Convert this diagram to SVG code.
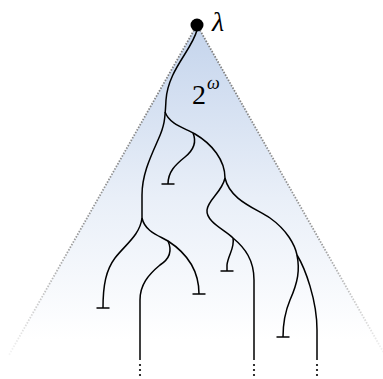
<svg xmlns="http://www.w3.org/2000/svg" width="383" height="379" viewBox="0 0 383 379">
<defs>
<linearGradient id="fillg" gradientUnits="userSpaceOnUse" x1="0" y1="25" x2="0" y2="340">
<stop offset="0" stop-color="#c4d4ec"/>
<stop offset="0.55" stop-color="#e9eff8"/>
<stop offset="1" stop-color="#ffffff"/>
</linearGradient>
<linearGradient id="edgeg" gradientUnits="userSpaceOnUse" x1="0" y1="25" x2="0" y2="355">
<stop offset="0" stop-color="#7a7a7a"/>
<stop offset="0.65" stop-color="#999999"/>
<stop offset="1" stop-color="#f4f4f4"/>
</linearGradient>
</defs>
<style>
.edge{fill:none;stroke:url(#edgeg);stroke-width:1.8;stroke-dasharray:1.5 1.5}
.br{fill:none;stroke:#000;stroke-width:1.5;stroke-linecap:butt}
.bar{stroke:#000;stroke-width:1.5}
.dot{fill:#000}
.lbl{font-family:"Liberation Serif",serif;font-style:italic;fill:#000}
.num{font-family:"Liberation Serif",serif;fill:#000}
</style>
<g id="cone">
<polygon points="197,25 9,355 385,355" fill="url(#fillg)" stroke="none"/>
<path class="edge" d="M197,25 L9,355"/>
<path class="edge" d="M197,25 L385,355"/>
</g>
<g id="connectors">
<path class="br" d="M197,30 C192,50 168,70 166,100 C165,118 165,125 158,140 C150,158 142,175 142,195 L142,218"/>
<path class="br" d="M142,218 C140,235 125,245 115,258 C106,270 103,285 103,308"/>
<path class="br" d="M142,218 C145,232 160,236 168,241 C185,252 199,268 199,294"/>
<path class="br" d="M168,241 C172,250 171,258 160,265 C148,275 140,285 140,300 L140,360"/>
<path class="br" d="M165,112 C170,125 185,128 195,134 C212,144 225,160 225,178"/>
<path class="br" d="M193,133 C196,140 196,148 185,157 C175,165 168,172 168,184"/>
<path class="br" d="M225,178 C222,192 208,200 207,210 C206,222 225,230 233,238"/>
<path class="br" d="M233,238 C235,248 228,255 227,265 L227,271"/>
<path class="br" d="M233,238 C245,248 254,260 254,280 L254,360"/>
<path class="br" d="M225,178 C230,200 255,208 270,218 C287,230 295,245 297,255"/>
<path class="br" d="M297,255 C300,270 298,282 290,300 C285,312 283,322 283,337"/>
<path class="br" d="M297,255 C305,268 317,300 317,330 L317,360"/>
</g>
<g id="leaves">
<line class="bar" x1="96.5" y1="308" x2="109.5" y2="308"/>
<line class="bar" x1="161.5" y1="184" x2="174.5" y2="184"/>
<line class="bar" x1="192.5" y1="294" x2="205.5" y2="294"/>
<line class="bar" x1="220.5" y1="271" x2="233.5" y2="271"/>
<line class="bar" x1="276.5" y1="337" x2="289.5" y2="337"/>
</g>
<g id="continuations">
<circle class="dot" cx="140" cy="365" r="1.1"/><circle class="dot" cx="140" cy="370" r="1.1"/><circle class="dot" cx="140" cy="375" r="1.1"/>
<circle class="dot" cx="254" cy="365" r="1.1"/><circle class="dot" cx="254" cy="370" r="1.1"/><circle class="dot" cx="254" cy="375" r="1.1"/>
<circle class="dot" cx="317" cy="365" r="1.1"/><circle class="dot" cx="317" cy="370" r="1.1"/><circle class="dot" cx="317" cy="375" r="1.1"/>
</g>
<g id="root">
<circle cx="197" cy="25" r="6.5" fill="#000"/>
<text class="lbl" x="212" y="31" font-size="28">λ</text>
</g>
<g id="label">
<text class="num" x="192" y="104" font-size="28">2</text>
<text class="lbl" x="207" y="89" font-size="18">ω</text>
</g>
</svg>
